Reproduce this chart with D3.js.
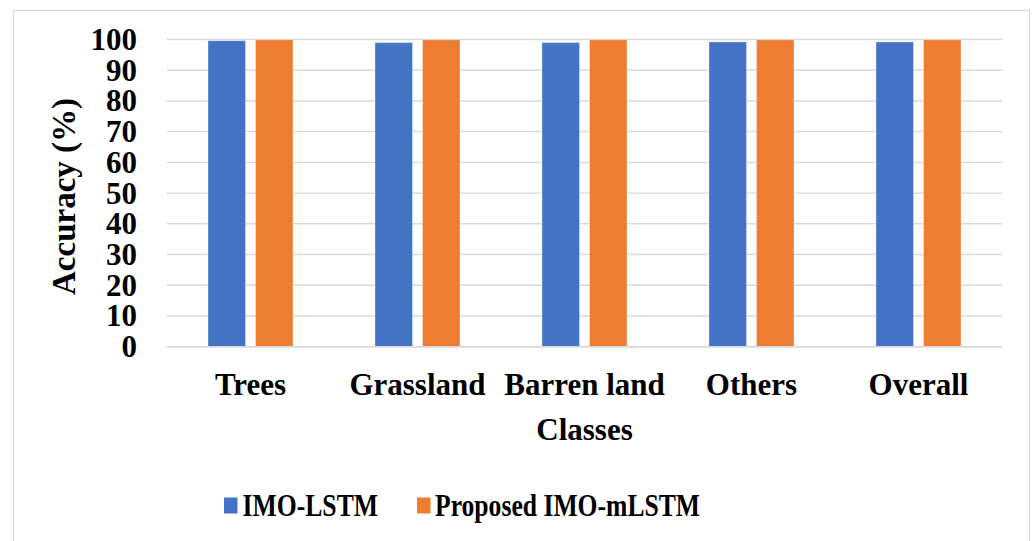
<!DOCTYPE html>
<html>
<head>
<meta charset="utf-8">
<script src="https://cdn.jsdelivr.net/npm/d3@7"></script>
<style>
  html, body { margin: 0; padding: 0; background: #fff; }
  svg { display: block; }
  text { font-family: "Liberation Serif", "Times New Roman", serif; font-weight: bold; fill: #000; }
</style>
</head>
<body>
<svg id="chart" width="1033" height="541"></svg>
<script>
const categories = ["Trees", "Grassland", "Barren land", "Others", "Overall"];
const seriesNames = ["IMO-LSTM", "Proposed IMO-mLSTM"];
const imoLstm = [99.6, 99.0, 99.0, 99.2, 99.2];
const proposedImoMlstm = [99.9, 99.9, 99.9, 99.9, 99.9];
const yTicks = [0, 10, 20, 30, 40, 50, 60, 70, 80, 90, 100];
const xTitle = "Classes";
const yTitle = "Accuracy (%)";
const colors = ["#4472C4", "#ED7D31"];

const seriesValues = [imoLstm, proposedImoMlstm];
const data = categories.map((c, i) => ({ cat: c, vals: seriesNames.map((s, j) => ({ s, v: seriesValues[j][i], j })) }));

const svg = d3.select("#chart");
const plot = { left: 167, right: 1002, top: 39.5, bottom: 346.7 };

// chart border
svg.append("rect").attr("x", 13.5).attr("y", 10.5).attr("width", 1016).attr("height", 560)
  .attr("fill", "none").attr("stroke", "#d9d9d9").attr("stroke-width", 1.2);

const y = d3.scaleLinear().domain([0, 100]).range([plot.bottom, plot.top]);
const x0 = d3.scaleBand().domain(categories).range([plot.left, plot.right])
  .paddingInner(0.491).paddingOuter(0.2455);
const x1 = d3.scaleBand().domain(seriesNames).range([0, x0.bandwidth()]).paddingInner(0.2105);
const color = d3.scaleOrdinal().domain(seriesNames).range(colors);

// gridlines
svg.append("g").selectAll("line").data(yTicks).join("line")
  .attr("x1", plot.left).attr("x2", plot.right)
  .attr("y1", d => y(d)).attr("y2", d => y(d))
  .attr("stroke", "#d9d9d9").attr("stroke-width", 1.4);

// y tick labels
svg.append("g").selectAll("text").data(yTicks).join("text")
  .attr("x", 137).attr("y", d => y(d) + 10.5)
  .attr("text-anchor", "end").attr("font-size", 31)
  .text(d => d);

// bars
const groups = svg.append("g").selectAll("g").data(data).join("g")
  .attr("transform", d => `translate(${x0(d.cat)},0)`);
groups.selectAll("rect").data(d => d.vals).join("rect")
  .attr("x", d => x1(d.s)).attr("width", x1.bandwidth())
  .attr("y", d => y(d.v)).attr("height", d => y(0) - y(d.v))
  .attr("fill", d => color(d.s))
  .attr("stroke", "rgba(255,255,255,0.35)").attr("stroke-width", 1);

// x axis line
svg.append("line").attr("x1", plot.left).attr("x2", plot.right)
  .attr("y1", y(0)).attr("y2", y(0)).attr("stroke", "#d9d9d9").attr("stroke-width", 1.4);

// category labels
svg.append("g").selectAll("text").data(categories).join("text")
  .attr("x", d => x0(d) + x0.bandwidth() / 2).attr("y", 395)
  .attr("text-anchor", "middle").attr("font-size", 31)
  .text(d => d);

// axis titles
svg.append("text").attr("x", (plot.left + plot.right) / 2).attr("y", 440)
  .attr("text-anchor", "middle").attr("font-size", 31).text(xTitle);
svg.append("text").attr("transform", "translate(75,196.5) rotate(-90)")
  .attr("text-anchor", "middle").attr("font-size", 33).text(yTitle);

// legend
const legendPos = [{ sx: 224, tx: 242.5, w: 135.5 }, { sx: 417, tx: 435, w: 265 }];
const lg = svg.append("g").selectAll("g").data(seriesNames).join("g");
lg.append("rect").attr("x", (d, i) => legendPos[i].sx).attr("y", 497.5)
  .attr("width", 13.5).attr("height", 16).attr("fill", d => color(d));
lg.append("text").attr("x", (d, i) => legendPos[i].tx).attr("y", 516)
  .attr("font-size", 31)
  .attr("textLength", (d, i) => legendPos[i].w).attr("lengthAdjust", "spacingAndGlyphs")
  .text(d => d);
</script>
</body>
</html>
